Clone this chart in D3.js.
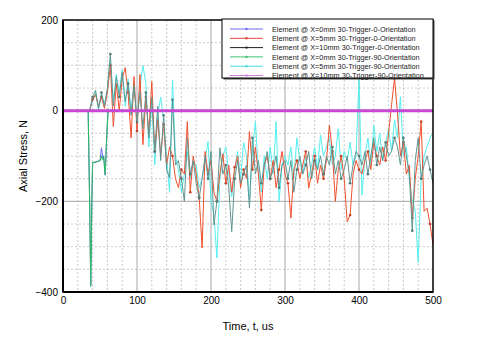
<!DOCTYPE html>
<html><head><meta charset="utf-8">
<script src="https://cdn.jsdelivr.net/npm/d3@7/dist/d3.min.js"></script>
<style>body{margin:0;background:#fff;} text{font-family:"Liberation Sans",Arial,sans-serif;}</style>
</head><body><svg id="c" width="481" height="356"></svg>
<script>
const seriesNames = [
  "Element @ X=0mm 30-Trigger-0-Orientation",
  "Element @ X=5mm 30-Trigger-0-Orientation",
  "Element @ X=10mm 30-Trigger-0-Orientation",
  "Element @ X=0mm 30-Trigger-90-Orientation",
  "Element @ X=5mm 30-Trigger-90-Orientation",
  "Element @ X=10mm 30-Trigger-90-Orientation"
];
const xTicks = [0,100,200,300,400,500];
const yTicks = [-400,-200,0,200];

// X=0mm series (blue & green): early impact then end
const timesNear = [0,34,36,37.5,39,40,45,50,52,54,55,57,59,61];
const blueVals  = [0,0,-200,-385,-200,-115,-113,-110,-82,-105,-100,-142,-60,0];
const greenVals = [0,0,-200,-388,-200,-115,-113,-110,-100,-108,-104,-142,-60,5];

// Shared sampling times for the noisy series
const times = [0,32,36,40,44,48,52,56,60,64,
  68,72,76,80,84,88,92,96,100,104,108,
  112,116,120,124,128,132,136,140,144,148,
  152,156,160,164,168,172,176,180,184,188,192,196,200,
  204,208,212,216,220,224,228,232,236,240,244,248,
  252,256,260,264,268,272,276,280,284,288,292,296,300,
  304,308,312,316,320,324,328,332,336,340,344,348,352,
  356,360,364,368,372,376,380,384,388,392,396,400,
  404,408,412,416,420,424,428,432,436,440,444,448,
  452,456,460,464,468,472,476,480,484,488,492,496,500];

const redVals = [0,0,0,25,35,10,30,5,40,100,
  -35,60,0,70,95,40,-60,75,-45,80,-75,
  30,-50,64,-90,-20,-100,-30,-120,-80,-100,
  -150,-170,-130,-140,-24,-180,-100,-140,-190,-303,-90,-140,-110,
  -180,-200,-140,-95,-160,-120,-180,-125,-100,-170,-130,-150,
  -46,-130,-80,-140,-219,-120,-100,-150,-110,-170,-130,-90,-140,
  -160,-237,-130,-110,-150,-120,-90,-171,-140,-100,-160,-120,-150,
  -110,-32,-90,-200,-130,-100,-150,-245,-230,-140,-110,-130,
  -140,-110,-90,-130,-70,-100,-120,-80,-110,-50,13,71,
  -5,-100,-70,-140,-120,-237,-150,-100,-24,-222,-215,-250,-296];

const darkVals = [0,0,0,30,45,5,40,10,50,125,
  10,75,30,85,20,60,-10,55,-25,40,-40,
  40,-60,30,-90,10,-110,-10,-130,-148,24,
  -120,-110,-150,-200,-60,-140,-110,-160,-193,-150,-100,-150,-90,
  -252,-200,-82,-140,-120,-170,-267,-150,-110,-160,-140,-120,
  -215,-60,-140,-110,-160,-120,-90,-150,-130,-100,-170,-120,-110,
  -150,-110,-180,-130,-100,-140,-120,-90,-150,-110,-130,-100,-140,
  -100,-120,-80,-140,-110,-150,-130,-100,-160,-120,-90,-100,
  -120,-90,-140,-100,-60,-120,-80,-110,-70,-100,-90,-60,
  -80,-120,-60,-100,-140,-265,-110,-60,-150,-120,-100,-130,-160];

const cyanVals = [0,0,0,20,40,0,35,15,45,110,
  20,80,40,90,10,70,0,60,-20,50,100,
  60,-80,20,-120,-10,30,-20,-100,-180,68,
  -100,-130,-180,-140,-90,-150,-112,-120,-170,-150,-110,-68,-200,
  -230,-325,-150,-100,-80,-140,-190,-130,-90,-150,-70,-100,
  -200,-90,-24,-130,-180,-100,-150,-80,-140,-24,-200,-120,-100,
  -120,-80,-150,-60,-110,-140,-100,-150,-120,-80,-130,-54,-100,
  -80,-60,-120,-100,-40,-130,-90,-110,-70,-120,-100,72,
  -186,-100,-60,-120,-32,-90,-50,-110,-70,-40,-90,-20,
  -60,31,-100,-80,-150,-200,-220,-335,-150,-100,-80,-60,-49];

const flatTimes = [0,500];
const magentaVals = [0,0];

const svg = d3.select("#c");
const x = d3.scaleLinear().domain([0,500]).range([63,433]);
const y = d3.scaleLinear().domain([-400,200]).range([292,20]);

// grid
const g = svg.append("g");
g.selectAll(".vx").data(d3.range(0,501,20).filter(v=>v%100!==0)).enter().append("line")
  .attr("x1",d=>x(d)).attr("x2",d=>x(d)).attr("y1",y(200)).attr("y2",y(-400))
  .attr("stroke","#bdbdbd").attr("stroke-width",0.8).attr("stroke-dasharray","2,2");
g.selectAll(".vy").data(d3.range(-400,201,50).filter(v=>v%200!==0)).enter().append("line")
  .attr("y1",d=>y(d)).attr("y2",d=>y(d)).attr("x1",x(0)).attr("x2",x(500))
  .attr("stroke","#bdbdbd").attr("stroke-width",0.8).attr("stroke-dasharray","2,2");
g.selectAll(".mx").data([100,200,300,400]).enter().append("line")
  .attr("x1",d=>x(d)).attr("x2",d=>x(d)).attr("y1",y(200)).attr("y2",y(-400))
  .attr("stroke","#a8a8a8").attr("stroke-width",1);
g.selectAll(".my").data([-200,0]).enter().append("line")
  .attr("y1",d=>y(d)).attr("y2",d=>y(d)).attr("x1",x(0)).attr("x2",x(500))
  .attr("stroke","#a8a8a8").attr("stroke-width",1);

const colors = ["#6a6af0","#f0502e","#609692","#2fb865","#55eeee","#c846d4"];
const legendColors = ["#6a6af0","#e04838","#222222","#3cc070","#44dddd","#d080e0"];

function drawSeries(ts, vs, color, w, markers){
  const data = ts.map((t,i)=>[t,vs[i]]);
  const line = d3.line().x(d=>x(d[0])).y(d=>y(d[1]));
  svg.append("path").datum(data).attr("d",line).attr("fill","none")
    .attr("stroke",color).attr("stroke-width",w).attr("stroke-linejoin","round");
  if(markers){
    svg.append("g").selectAll("circle").data(data.filter((d,i)=>i>2 && i%3===0)).enter()
      .append("circle").attr("cx",d=>x(d[0])).attr("cy",d=>y(d[1])).attr("r",1.3)
      .attr("fill",d3.color(color).darker(0.6));
  }
}
drawSeries(timesNear, blueVals, colors[0], 1, false);
drawSeries(timesNear, greenVals, colors[3], 1.1, false);
drawSeries(times, cyanVals, colors[4], 1, false);
drawSeries(times, redVals, colors[1], 1, true);
drawSeries(times, darkVals, colors[2], 1, true);
drawSeries(flatTimes, magentaVals, colors[5], 3, false);

// frame
svg.append("rect").attr("x",x(0)).attr("y",y(200)).attr("width",x(500)-x(0)).attr("height",y(-400)-y(200))
  .attr("fill","none").attr("stroke","#000").attr("stroke-width",1.5);
svg.append("line").attr("x1",x(0)).attr("x2",x(0)).attr("y1",y(200)).attr("y2",y(-400)).attr("stroke","#000").attr("stroke-width",2);
svg.append("line").attr("x1",x(0)).attr("x2",x(500)).attr("y1",y(-400)).attr("y2",y(-400)).attr("stroke","#000").attr("stroke-width",2);

// axes labels
const xAxis = d3.axisBottom(x).tickValues(xTicks).tickSize(0).tickPadding(5);
const xa = svg.append("g").attr("transform",`translate(0,${y(-400)})`).call(xAxis);
xa.select(".domain").remove();
xa.selectAll("text").attr("font-size","10px").attr("fill","#000").attr("font-family","Liberation Sans, Arial, sans-serif");
const yAxis = d3.axisLeft(y).tickValues(yTicks).tickSize(0).tickPadding(5);
const ya = svg.append("g").attr("transform",`translate(${x(0)},0)`).call(yAxis);
ya.select(".domain").remove();
ya.selectAll("text").attr("font-size","10px").attr("fill","#000").attr("font-family","Liberation Sans, Arial, sans-serif");

svg.append("text").attr("x",248).attr("y",330).attr("text-anchor","middle").attr("font-size","11px").text("Time, t, us");
svg.append("text").attr("transform","translate(27,156) rotate(-90)").attr("text-anchor","middle").attr("font-size","11px").text("Axial Stress, N");

// legend
const lg = svg.append("g");
lg.append("rect").attr("x",223.5).attr("y",20.5).attr("width",211).attr("height",59).attr("fill","#444");
lg.append("rect").attr("x",222).attr("y",19).attr("width",211).attr("height",59).attr("fill","#fff").attr("stroke","#000").attr("stroke-width",1);
seriesNames.forEach((n,i)=>{
  const yy = 29 + i*9.3;
  lg.append("line").attr("x1",230).attr("x2",263).attr("y1",yy).attr("y2",yy).attr("stroke",legendColors[i]).attr("stroke-width",1);
  lg.append("circle").attr("cx",246.5).attr("cy",yy).attr("r",1.2).attr("fill",legendColors[i]);
  lg.append("text").attr("x",272).attr("y",yy+2.6).attr("font-size","7.3px").attr("fill","#222").text(n);
});
</script></body></html>
